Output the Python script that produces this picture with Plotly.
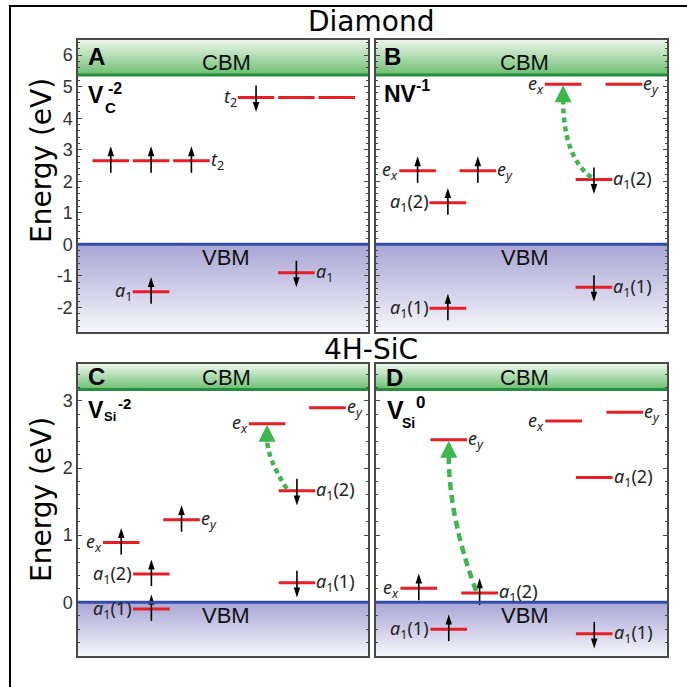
import plotly.graph_objects as go

W, H = 687, 687

# ---------------- data ----------------
host_titles = ["Diamond", "4H-SiC"]
panel_ids = ["A", "B", "C", "D"]

cbm_energy = {"A": 5.37, "B": 5.37, "C": 3.17, "D": 3.17}
vbm_energy = 0.0

top_ticks = [-2, -1, 0, 1, 2, 3, 4, 5, 6]
top_tick_text = ["-2", "-1", "0", "1", "2", "3", "4", "5", "6"]
bot_ticks = [0, 1, 2, 3]
bot_tick_text = ["0", "1", "2", "3"]

# Panel A: V_C^-2 (diamond)
A_x = [11.3, 25.2, 39.1, 61.4, 75.3, 89.2, 25.2, 75.3]
A_E = [2.65, 2.65, 2.65, 4.66, 4.66, 4.66, -1.50, -0.90]
A_spin = ["up", "up", "up", "down", "", "", "up", "down"]
A_label = ["", "", "t2", "t2", "", "", "a1", "a1"]
A_side = ["", "", "R", "L", "", "", "L", "R"]

# Panel B: NV^-1 (diamond)
B_x = [14.3, 35.0, 24.7, 24.7, 64.3, 85.2, 74.9, 74.9]
B_E = [2.33, 2.33, 1.32, -2.03, 5.08, 5.08, 2.06, -1.36]
B_spin = ["up", "up", "up", "up", "", "", "down", "down"]
B_label = ["ex", "ey", "a1(2)", "a1(1)", "ex", "ey", "a1(2)", "a1(1)"]
B_side = ["L", "R", "L", "L", "L", "R", "R", "R"]

# Panel C: V_Si^-2 (4H-SiC)
C_x = [25.3, 25.3, 14.9, 35.7, 75.5, 75.5, 65.2, 86.0]
C_E = [-0.10, 0.42, 0.89, 1.23, 1.66, 0.29, 2.66, 2.90]
C_spin = ["up", "up", "up", "up", "down", "down", "", ""]
C_label = ["a1(1)", "a1(2)", "ex", "ey", "a1(2)", "a1(1)", "ex", "ey"]
C_side = ["L", "L", "L", "R", "R", "R", "L", "R"]

# Panel D: V_Si^0 (4H-SiC)
D_x = [14.7, 35.6, 25.0, 25.0, 64.5, 85.5, 75.0, 75.0]
D_E = [0.21, 0.14, -0.40, 2.42, 2.70, 2.83, 1.86, -0.47]
D_spin = ["up", "up", "up", "", "", "", "", "down"]
D_label = ["ex", "a1(2)", "a1(1)", "ey", "ex", "ey", "a1(2)", "a1(1)"]
D_side = ["L", "R", "L", "R", "L", "R", "R", "R"]

# excitation (panel, from level index, to level index)
transitions = [("B", 6, 4), ("C", 4, 6), ("D", 1, 3)]

LEVELS = {
    "A": (A_x, A_E, A_spin, A_label, A_side),
    "B": (B_x, B_E, B_spin, B_label, B_side),
    "C": (C_x, C_E, C_spin, C_label, C_side),
    "D": (D_x, D_E, D_spin, D_label, D_side),
}

LBL = {
    "t2": "<i>t</i><sub>2</sub>",
    "a1": "<i>a</i><sub>1</sub>",
    "a1(1)": "<i>a</i><sub>1</sub>(1)",
    "a1(2)": "<i>a</i><sub>1</sub>(2)",
    "ex": "<i>e</i><sub><i>x</i></sub>",
    "ey": "<i>e</i><sub><i>y</i></sub>",
}

# ---------------- layout / style ----------------
GEOM = {"A": (78, 368, 40, 332), "B": (376, 667, 40, 332),
        "C": (78, 368, 364, 656), "D": (376, 667, 364, 656)}
YR = {"A": (-2.78, 6.48), "B": (-2.78, 6.48), "C": (-0.80, 3.55), "D": (-0.80, 3.55)}
AX = {"A": ("x", "y"), "B": ("x2", "y2"), "C": ("x3", "y3"), "D": ("x4", "y4")}

FRAME = "#4a4a4a"
RED = "rgb(232,30,36)"
GREEN = "rgb(62,182,78)"
CBM_LINE = "rgb(38,140,62)"
VBM_LINE = "rgb(52,78,168)"
GREEN_BOT = "rgb(108,190,112)"
GREEN_TOP = "rgb(236,247,236)"
VIOLET_TOP = "rgb(168,165,213)"
VIOLET_BOT = "rgb(246,246,251)"
SANS = "Liberation Sans"
BIG = "DejaVu Sans"
LABEL_FONT = "Noto Sans"

HALF_W = 6.3          # half level width (x units)
TAIL_PX, TIP_PX, HEAD_PX = 12.0, 14.6, 9.0

# transition style: start x offset (units), bend fraction, dash
TR_STYLE = {"B": (-0.9, 0.24, "5px,4px"), "C": (-3.5, 0.49, "5px,4px"), "D": (-1.2, 0.50, "8px,5px")}


def px_to_paper(px, py):
    return px / W, 1 - py / H


fig = go.Figure()
layout_axes = {}
shapes = []
annotations = []

for i, p in enumerate(panel_ids):
    l, r, t, b = GEOM[p]
    xa, ya = AX[p]
    ymin, ymax = YR[p]
    ppy = (b - t) / (ymax - ymin)
    sfx = "" if i == 0 else str(i + 1)
    is_top = p in "AB"
    layout_axes["xaxis" + sfx] = dict(
        domain=[l / W, r / W], range=[0, 100], anchor=ya, showgrid=False,
        zeroline=False, showticklabels=False, ticks="", showline=True,
        mirror=True, linecolor=FRAME, linewidth=1.5, fixedrange=True)
    layout_axes["yaxis" + sfx] = dict(
        domain=[1 - b / H, 1 - t / H], range=[ymin, ymax], anchor=xa,
        showgrid=False, zeroline=False, showline=True, mirror="ticks",
        linecolor=FRAME, linewidth=1.5, ticks="inside", ticklen=4,
        tickwidth=1.2, tickcolor=FRAME, tickmode="array",
        tickvals=top_ticks if is_top else bot_ticks,
        ticktext=top_tick_text if is_top else bot_tick_text,
        showticklabels=(p in "AC"), tickfont=dict(size=18, color="#333", family=SANS),
        minor=dict(tickmode="linear", tick0=0, dtick=0.2, ticks="inside",
                   ticklen=2, tickwidth=1, tickcolor=FRAME),
        fixedrange=True)

    cbm = cbm_energy[p]
    # conduction band (gradient)
    fig.add_trace(go.Scatter(
        x=[0, 100, 100, 0], y=[cbm, cbm, ymax, ymax], fill="toself", mode="lines",
        line=dict(width=0), fillgradient=dict(type="vertical",
                                              colorscale=[[0, GREEN_BOT], [1, GREEN_TOP]],
                                              start=cbm, stop=ymax),
        hoverinfo="skip", showlegend=False, xaxis=xa, yaxis=ya))
    # valence band (gradient)
    fig.add_trace(go.Scatter(
        x=[0, 100, 100, 0], y=[ymin, ymin, vbm_energy, vbm_energy], fill="toself", mode="lines",
        line=dict(width=0), fillgradient=dict(type="vertical",
                                              colorscale=[[0, VIOLET_BOT], [1, VIOLET_TOP]],
                                              start=ymin, stop=vbm_energy),
        hoverinfo="skip", showlegend=False, xaxis=xa, yaxis=ya))
    shapes.append(dict(type="line", xref=xa + " domain", yref=ya, x0=0, x1=1, y0=cbm, y1=cbm,
                       line=dict(color=CBM_LINE, width=3)))
    shapes.append(dict(type="line", xref=xa + " domain", yref=ya, x0=0, x1=1,
                       y0=vbm_energy, y1=vbm_energy, line=dict(color=VBM_LINE, width=3)))
    annotations.append(dict(text="CBM", x=51.2, y=cbm, xref=xa, yref=ya, yshift=12.3,
                            showarrow=False, font=dict(size=22, family=SANS, color="#111"),
                            xanchor="center", yanchor="middle", borderpad=0))
    annotations.append(dict(text="VBM", x=51.2, y=vbm_energy, xref=xa, yref=ya, yshift=-13.3,
                            showarrow=False, font=dict(size=22, family=SANS, color="#111"),
                            xanchor="center", yanchor="middle", borderpad=0))

    xs, es, spins, labels, sides = LEVELS[p]
    # levels
    lx, ly = [], []
    for x, e in zip(xs, es):
        lx += [x - HALF_W, x + HALF_W, None]
        ly += [e, e, None]
    fig.add_trace(go.Scatter(x=lx, y=ly, mode="lines", line=dict(color=RED, width=3),
                             hoverinfo="skip", showlegend=False, xaxis=xa, yaxis=ya))
    # spin arrows
    sx, sy, hx, hy, ha = [], [], [], [], []
    for x, e, s in zip(xs, es, spins):
        if not s:
            continue
        sgn = 1 if s == "up" else -1
        tail = e - sgn * TAIL_PX / ppy
        tip = e + sgn * TIP_PX / ppy
        shaft_end = e + sgn * (TIP_PX - HEAD_PX + 1) / ppy
        sx += [x, x, None]
        sy += [tail, shaft_end, None]
        hx.append(x)
        hy.append(tip)
        ha.append(0 if s == "up" else 180)
    fig.add_trace(go.Scatter(x=sx, y=sy, mode="lines", line=dict(color="black", width=1.6),
                             hoverinfo="skip", showlegend=False, xaxis=xa, yaxis=ya))
    fig.add_trace(go.Scatter(x=hx, y=hy, mode="markers",
                             marker=dict(symbol="arrow", size=10.5, angle=ha, color="black",
                                         line=dict(width=0)),
                             hoverinfo="skip", showlegend=False, xaxis=xa, yaxis=ya))
    # level labels
    for x, e, lab, side in zip(xs, es, labels, sides):
        if not lab:
            continue
        if side == "R":
            ax_, anc = x + HALF_W, "left"
        else:
            ax_, anc = x - HALF_W, "right"
        annotations.append(dict(text=LBL[lab], x=ax_, y=e, xref=xa, yref=ya, yshift=0,
                                showarrow=False, xanchor=anc, yanchor="middle", borderpad=0,
                                font=dict(size=18, family=LABEL_FONT, color="#222")))

# excitation arrows (green, dashed, curved)
for p, i_from, i_to in transitions:
    xa, ya = AX[p]
    l, r, t, b = GEOM[p]
    ymin, ymax = YR[p]
    ppy = (b - t) / (ymax - ymin)
    xs, es = LEVELS[p][0], LEVELS[p][1]
    dx0, bend, dash = TR_STYLE[p]
    x0, y0 = xs[i_from] + dx0, es[i_from] + 2.0 / ppy
    x1, y1 = xs[i_to], es[i_to] - 15.0 / ppy
    cx, cy = x1, es[i_from] + bend * (es[i_to] - es[i_from])
    shapes.append(dict(type="path", xref=xa, yref=ya,
                       path=f"M{x0},{y0} Q{cx},{cy} {x1},{y1}",
                       line=dict(color=GREEN, width=4.5, dash=dash)))
    annotations.append(dict(text="", x=xs[i_to], y=es[i_to], xref=xa, yref=ya,
                            showarrow=True, ax=0, ay=20, arrowhead=2, arrowsize=1,
                            arrowwidth=3.4, arrowcolor=GREEN, standoff=1))

# panel letters and defect names
def txt(s, px, py, size, bold=True, anchor="left", family=SANS, angle=0):
    xp, yp = px_to_paper(px, py)
    annotations.append(dict(text=f"<b>{s}</b>" if bold else s, x=xp, y=yp, xref="paper",
                            yref="paper", showarrow=False, xanchor=anchor, yanchor="middle",
                            textangle=angle, font=dict(size=size, family=family, color="black")))

txt("A", 86, 56, 24)
txt("B", 382, 56, 24)
txt("C", 86, 376.5, 24)
txt("D", 384, 377, 24)

txt("V", 86, 95, 23)
txt("C", 103, 107, 15)
txt("-2", 106, 88, 16)

txt("NV", 382, 93.5, 23)
txt("-1", 414, 85, 16)

txt("V", 86, 409.5, 23)
txt("Si", 102, 416, 13)
txt("-2", 116, 403, 15)

txt("V", 385, 410, 25)
txt("Si", 400, 422.5, 14)
txt("0", 414, 402.5, 17)

# host titles and axis titles
txt(host_titles[0], 371, 21.5, 28, bold=False, anchor="center", family=BIG)
txt(host_titles[1], 371, 349, 28, bold=False, anchor="center", family=BIG)
txt("Energy (eV)", 41, 161, 28, bold=False, anchor="center", family=BIG, angle=-90)
txt("Energy (eV)", 41, 500, 28, bold=False, anchor="center", family=BIG, angle=-90)

# outer frame (top and left edges visible)
shapes.append(dict(type="line", xref="paper", yref="paper", x0=10 / W, x1=1.0,
                   y0=1 - 6 / H, y1=1 - 6 / H, line=dict(color="black", width=2)))
shapes.append(dict(type="line", xref="paper", yref="paper", x0=10 / W, x1=10 / W,
                   y0=0, y1=1 - 5 / H, line=dict(color="black", width=2)))

fig.update_layout(
    width=W, height=H, margin=dict(l=0, r=0, t=0, b=0),
    paper_bgcolor="white", plot_bgcolor="white",
    font=dict(family=SANS, color="black"),
    showlegend=False, shapes=shapes, annotations=annotations, **layout_axes)

fig.write_html("out.html", config={"displayModeBar": False},
               post_script="document.body.style.margin='0px';")
